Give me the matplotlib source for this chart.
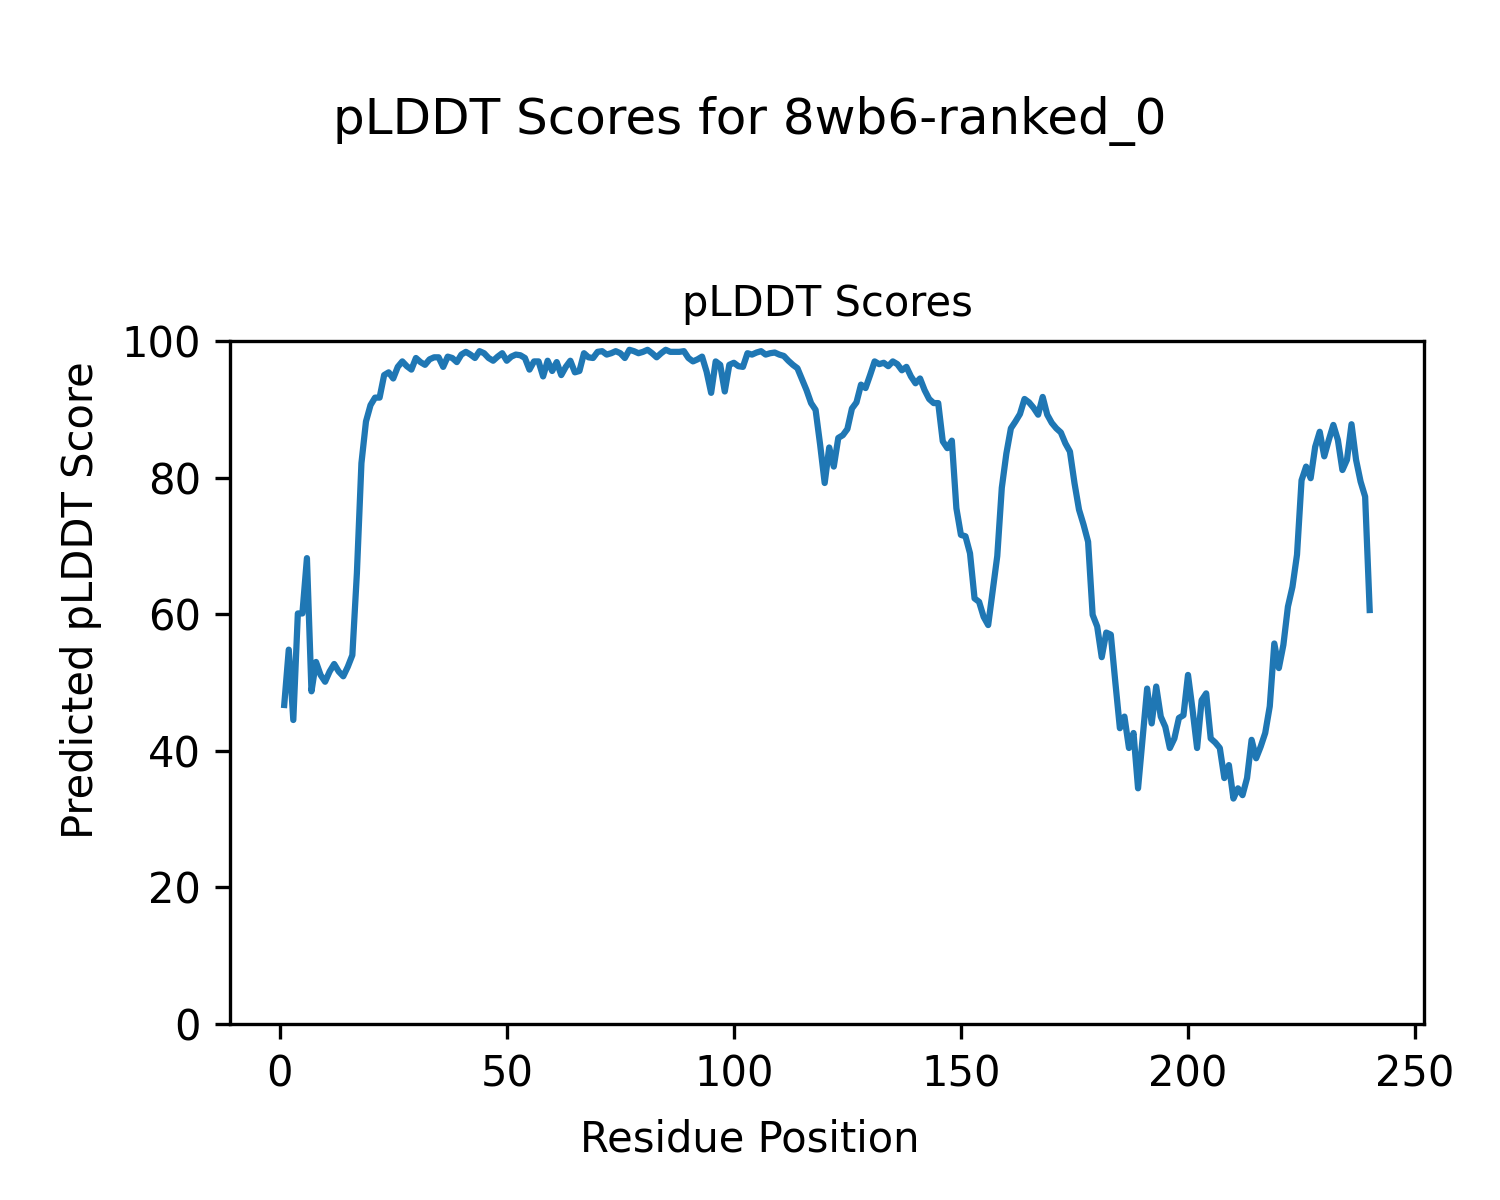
import matplotlib
matplotlib.use("Agg")
import matplotlib.pyplot as plt

residues = list(range(1, 241))
plddt = [
    46.7, 54.8, 44.5, 60.1, 60.1, 68.2, 48.7, 53.0, 51.1, 50.1,
    51.6, 52.7, 51.6, 50.9, 52.3, 54.0, 66.0, 82.1, 88.2, 90.6,
    91.7, 91.7, 95.0, 95.4, 94.5, 96.2, 97.0, 96.3, 95.8, 97.5,
    96.9, 96.5, 97.3, 97.6, 97.6, 96.2, 97.7, 97.5, 96.9, 98.0,
    98.4, 98.0, 97.5, 98.5, 98.2, 97.5, 97.1, 97.7, 98.2, 97.1,
    97.7, 98.0, 97.9, 97.5, 95.8, 97.0, 97.0, 94.8, 97.1, 95.6,
    96.9, 95.0, 96.2, 97.1, 95.4, 95.6, 98.2, 97.6, 97.5, 98.4,
    98.5, 98.0, 98.2, 98.5, 98.2, 97.5, 98.7, 98.5, 98.2, 98.4,
    98.7, 98.2, 97.6, 98.2, 98.7, 98.4, 98.4, 98.4, 98.5, 97.5,
    97.0, 97.3, 97.7, 95.5, 92.4, 97.0, 96.5, 92.6, 96.5, 96.8,
    96.3, 96.2, 98.2, 98.0, 98.3, 98.5, 98.0, 98.2, 98.3, 98.0,
    97.8, 97.1, 96.5, 96.0, 94.4, 92.8, 90.9, 89.9, 84.8, 79.2,
    84.4, 81.6, 85.8, 86.2, 87.1, 90.1, 91.0, 93.6, 93.1, 95.0,
    97.0, 96.6, 96.8, 96.3, 97.0, 96.6, 95.7, 96.2, 94.8, 93.8,
    94.5, 92.8, 91.5, 90.9, 90.9, 85.3, 84.3, 85.4, 75.5, 71.6,
    71.4, 68.9, 62.3, 61.8, 59.6, 58.4, 63.5, 68.5, 78.5, 83.5,
    87.2, 88.2, 89.3, 91.5, 91.0, 90.2, 89.2, 91.8, 89.2, 88.0,
    87.2, 86.6, 85.0, 83.8, 79.2, 75.3, 73.1, 70.6, 59.9, 58.2,
    53.7, 57.3, 57.0, 50.0, 43.3, 45.0, 40.4, 42.6, 34.5, 41.8,
    49.1, 44.0, 49.4, 45.0, 43.5, 40.4, 41.8, 44.8, 45.2, 51.1,
    46.0, 40.4, 47.4, 48.4, 41.8, 41.2, 40.4, 36.0, 37.9, 33.0,
    34.5, 33.5, 36.0, 41.6, 38.9, 40.6, 42.6, 46.5, 55.7, 52.1,
    55.5, 61.1, 64.0, 68.7, 79.6, 81.6, 79.9, 84.5, 86.7, 83.1,
    85.5, 87.7, 85.5, 81.1, 82.6, 87.8, 82.6, 79.4, 77.2, 60.6,
]

fig = plt.figure(figsize=(5, 4), dpi=300)
ax = fig.add_axes([0.1533, 0.1467, 0.7960, 0.5692])
ax.plot(residues, plddt, color="#1f77b4", linewidth=1.5)
ax.set_ylim(0, 100)
ax.set_title("pLDDT Scores", fontsize=10)
fig.text(0.5, 0.04, "Residue Position", ha="center", fontsize=10)
fig.text(0.04, 0.5, "Predicted pLDDT Score", va="center", rotation="vertical", fontsize=10)
fig.suptitle("pLDDT Scores for 8wb6-ranked_0", fontsize=12, y=0.92)
fig.savefig("out.png", dpi=300)
